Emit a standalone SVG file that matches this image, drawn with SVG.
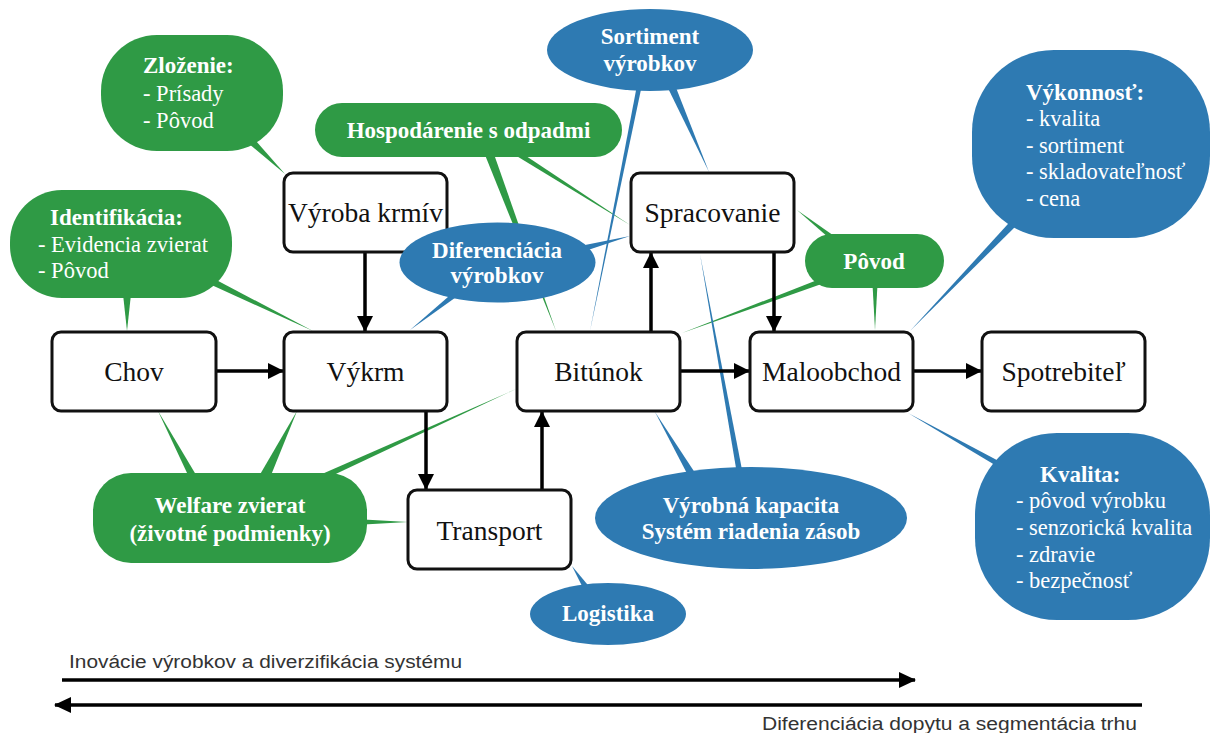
<svg xmlns="http://www.w3.org/2000/svg" width="1212" height="733" viewBox="0 0 1212 733">
<style>
.g{fill:#2f9a45}
.b{fill:#2e7ab2}
.node rect{fill:#fff;stroke:#111;stroke-width:3}
.nt{font-family:"Liberation Serif","DejaVu Serif",serif;font-size:27.5px;fill:#111;text-anchor:middle}
.bt{font-family:"Liberation Serif","DejaVu Serif",serif;font-size:23px;font-weight:bold;fill:#fff;text-anchor:middle}
.bl{font-family:"Liberation Serif","DejaVu Serif",serif;font-size:22.5px;fill:#fff}
.bh{font-family:"Liberation Serif","DejaVu Serif",serif;font-size:23px;font-weight:bold;fill:#fff}
.conn{stroke:#000;stroke-width:3.5;fill:none}
.ax{font-family:"Liberation Sans","DejaVu Sans",sans-serif;font-size:18px;fill:#333}
</style>
<defs>
<marker id="ah" markerUnits="userSpaceOnUse" markerWidth="16" markerHeight="16" refX="15" refY="8" orient="auto">
<path d="M0,0 L16,8 L0,16 Z" fill="#000"/>
</marker>
<marker id="ab" markerUnits="userSpaceOnUse" markerWidth="18" markerHeight="18" refX="16" refY="9" orient="auto">
<path d="M0,1 L17,9 L0,17 Z" fill="#000"/>
</marker>
</defs>

<g id="tails">
<polygon class="g" points="242,138 248,132 285,174"/>
<polygon class="g" points="479,140 489,140 556,331"/>
<polygon class="g" points="505,142 505,149 630,225"/>
<polygon class="g" points="122,285 132,285 127,331"/>
<polygon class="g" points="205,274 205,282 313,331"/>
<polygon class="g" points="195,490 205,490 158,411"/>
<polygon class="g" points="251,490 265,490 297,411"/>
<polygon class="g" points="306,481 306,488 516,389"/>
<polygon class="g" points="355,519 355,525 408,522"/>
<polygon class="g" points="837,245 847,245 797,210"/>
<polygon class="g" points="830,275 830,281 682,333"/>
<polygon class="g" points="872,275 878,275 875,330"/>
<polygon class="b" points="638,80 643,80 590,331"/>
<polygon class="b" points="664,80 673,80 709,172"/>
<polygon class="b" points="1019,212 1030,212 910,331"/>
<polygon class="b" points="570,248 570,256 630,236"/>
<polygon class="b" points="456,290 466,290 410,330"/>
<polygon class="b" points="693,485 703,485 655,412"/>
<polygon class="b" points="738,480 744,480 700,254"/>
<polygon class="b" points="1010,467 1010,474 908,413"/>
<polygon class="b" points="587,596 597,596 572,566"/>
</g>

<g id="connectors">
<path class="conn" d="M217,371 H283" marker-end="url(#ah)"/>
<path class="conn" d="M365,253 V331" marker-end="url(#ah)"/>
<path class="conn" d="M426,411 V489" marker-end="url(#ah)"/>
<path class="conn" d="M542,490 V412" marker-end="url(#ah)"/>
<path class="conn" d="M651,332 V253" marker-end="url(#ah)"/>
<path class="conn" d="M774,252 V331" marker-end="url(#ah)"/>
<path class="conn" d="M681,371 H749" marker-end="url(#ah)"/>
<path class="conn" d="M914,371 H981" marker-end="url(#ah)"/>
<path class="conn" d="M62,680 H915" stroke-width="4" marker-end="url(#ab)"/>
<path class="conn" d="M1142,705 H55" stroke-width="4" marker-end="url(#ab)"/>
</g>

<g id="chov" class="node"><rect x="52" y="332" width="164" height="79" rx="9"/><text class="nt" x="134" y="381">Chov</text></g>
<g id="vykrm" class="node"><rect x="284" y="332" width="163" height="79" rx="9"/><text class="nt" x="365.5" y="381">Výkrm</text></g>
<g id="bitunok" class="node"><rect x="517" y="332" width="163" height="79" rx="9"/><text class="nt" x="598.5" y="381">Bitúnok</text></g>
<g id="maloobchod" class="node"><rect x="750" y="332" width="163" height="79" rx="9"/><text class="nt" x="831.5" y="381">Maloobchod</text></g>
<g id="spotrebitel" class="node"><rect x="982" y="332" width="163" height="79" rx="9"/><text class="nt" x="1063.5" y="381">Spotrebiteľ</text></g>
<g id="vyroba" class="node"><rect x="284" y="173" width="163" height="79" rx="9"/><text class="nt" x="365.5" y="222">Výroba krmív</text></g>
<g id="spracovanie" class="node"><rect x="631" y="173" width="163" height="79" rx="9"/><text class="nt" x="712.5" y="222">Spracovanie</text></g>
<g id="transport" class="node"><rect x="408" y="490" width="163" height="79" rx="9"/><text class="nt" x="489.5" y="540">Transport</text></g>

<g id="b-zlozenie"><rect class="g" x="101" y="35" width="182" height="116" rx="56"/>
<text class="bh" x="143" y="73">Zloženie:</text><text class="bl" x="143" y="101">- Prísady</text><text class="bl" x="143" y="128">- Pôvod</text></g>
<g id="b-identifikacia"><rect class="g" x="10" y="190" width="222" height="108" rx="52"/>
<text class="bh" x="50" y="225">Identifikácia:</text><text class="bl" x="38" y="252">- Evidencia zvierat</text><text class="bl" x="38" y="278">- Pôvod</text></g>
<g id="b-hospodarenie"><rect class="g" x="315" y="103" width="307" height="54" rx="27"/>
<text class="bt" x="468.5" y="138">Hospodárenie s odpadmi</text></g>
<g id="b-welfare"><rect class="g" x="93" y="473" width="274" height="90" rx="38"/>
<text class="bt" x="230" y="513" font-size="24">Welfare zvierat</text><text class="bt" x="230" y="541" font-size="24">(životné podmienky)</text></g>
<g id="b-povod"><rect class="g" x="805" y="234" width="139" height="54" rx="27"/>
<text class="bt" x="874" y="269" font-size="24">Pôvod</text></g>
<g id="b-sortiment"><ellipse class="b" cx="650" cy="50" rx="103" ry="41"/>
<text class="bt" x="650" y="44" font-size="24">Sortiment</text><text class="bt" x="650" y="71" font-size="24">výrobkov</text></g>
<g id="b-vykonnost"><rect class="b" x="972" y="50" width="238" height="188" rx="82"/>
<text class="bh" x="1026" y="100">Výkonnosť:</text><text class="bl" x="1026" y="126">- kvalita</text><text class="bl" x="1026" y="153">- sortiment</text><text class="bl" x="1026" y="179">- skladovateľnosť</text><text class="bl" x="1026" y="206">- cena</text></g>
<g id="b-diferenciacia"><ellipse class="b" cx="497.5" cy="262.5" rx="98" ry="40"/>
<text class="bt" x="497" y="258" font-size="21.5">Diferenciácia</text><text class="bt" x="497" y="283" font-size="21.5">výrobkov</text></g>
<g id="b-kapacita"><ellipse class="b" cx="751" cy="518" rx="156" ry="51"/>
<text class="bt" x="751" y="513">Výrobná kapacita</text><text class="bt" x="751" y="539">Systém riadenia zásob</text></g>
<g id="b-kvalita"><rect class="b" x="975" y="433" width="235" height="187" rx="82"/>
<text class="bh" x="1040" y="482">Kvalita:</text><text class="bl" x="1016" y="508">- pôvod výrobku</text><text class="bl" x="1016" y="535">- senzorická kvalita</text><text class="bl" x="1016" y="562">- zdravie</text><text class="bl" x="1016" y="588">- bezpečnosť</text></g>
<g id="b-logistika"><ellipse class="b" cx="608" cy="614" rx="78" ry="31"/>
<text class="bt" x="608" y="621" font-size="24">Logistika</text></g>

<g id="axis-labels">
<text class="ax" x="69" y="668" textLength="393" lengthAdjust="spacingAndGlyphs">Inovácie výrobkov a diverzifikácia systému</text>
<text class="ax" x="762" y="730" textLength="375" lengthAdjust="spacingAndGlyphs">Diferenciácia dopytu a segmentácia trhu</text>
</g>
</svg>
